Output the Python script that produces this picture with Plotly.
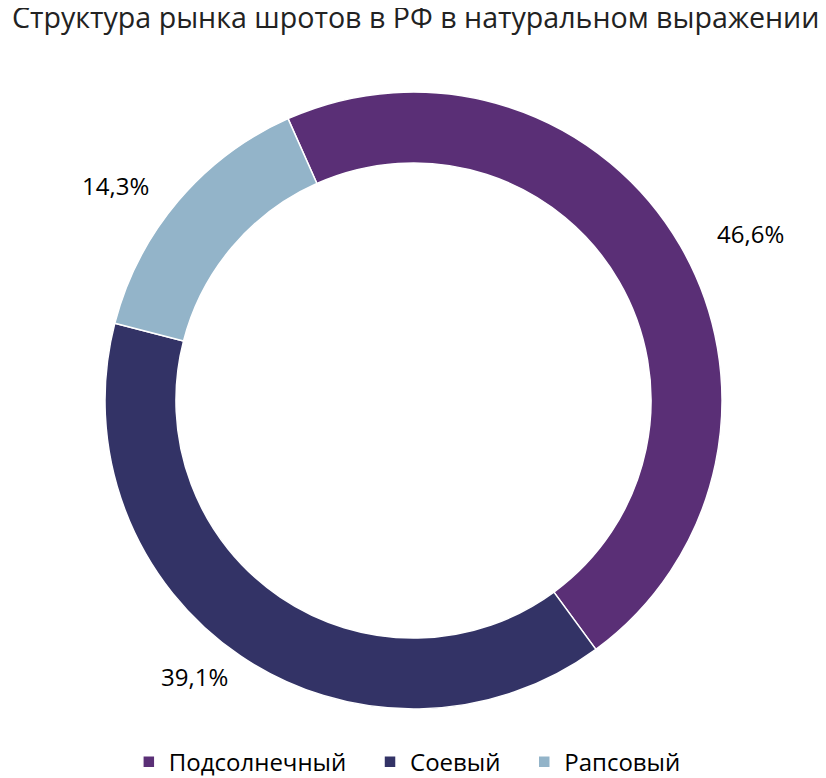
import math
import plotly.graph_objects as go

labels = ["Подсолнечный", "Соевый", "Рапсовый"]
values = [46.6, 39.1, 14.3]
text_labels = ["46,6%", "39,1%", "14,3%"]
colors = ["#5A2F76", "#333366", "#93B4C9"]

title_text = "Структура рынка шротов в РФ в натуральном выражении"

start_angle = -24  # degrees, clockwise from 12 o'clock
plot_side = 617    # px, square plot area

# extra gap after legend entries, as in the original
legend_names = [l + "\u00a0" * 3 for l in labels[:-1]] + [labels[-1]]

fig = go.Figure(go.Pie(
    labels=legend_names,
    values=values,
    textinfo="none",
    hole=0.77,
    sort=False,
    direction="clockwise",
    rotation=start_angle,
    marker=dict(colors=colors, line=dict(color="white", width=1.5)),
))

# percent labels outside the ring, at the middle angle of each slice
total = sum(values)
cum = 0
for v, t in zip(values, text_labels):
    mid = math.radians(start_angle + (cum + v / 2) / total * 360)
    cum += v
    fig.add_annotation(
        x=0.5 + 390 * math.sin(mid) / plot_side,
        y=0.5 + 333 * math.cos(mid) / plot_side,
        xref="paper", yref="paper",
        text=t, showarrow=False,
        xanchor="center", yanchor="middle",
        font=dict(size=24, color="#000000"),
    )

fig.update_layout(
    width=818,
    height=770,
    font=dict(family="Open Sans", color="#000000"),
    paper_bgcolor="white",
    plot_bgcolor="white",
    margin=dict(l=97, r=104, t=84, b=69, autoexpand=False),
    title=dict(text=title_text, x=4 / 818, xanchor="left", y=1, yanchor="top",
               xref="container", yref="container", font=dict(size=28.6, color="#222222")),
    legend=dict(orientation="h", x=0.49, xanchor="center", y=-0.086, yanchor="middle",
                font=dict(size=24), traceorder="normal"),
)

fig.write_html("out.html")
